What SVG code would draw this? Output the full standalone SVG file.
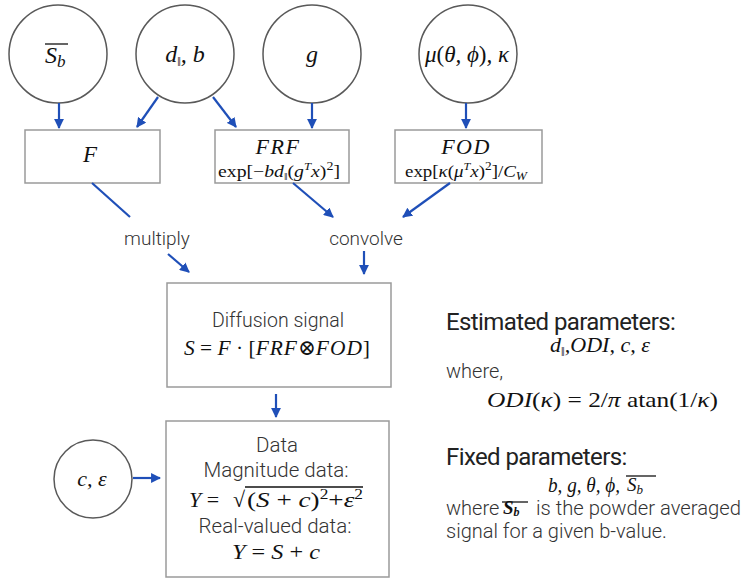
<svg xmlns="http://www.w3.org/2000/svg" width="743" height="579" viewBox="0 0 743 579">
<defs>
<marker id="ah" viewBox="0 0 10 10" refX="9" refY="5" markerWidth="4.5" markerHeight="4.5" orient="auto" markerUnits="strokeWidth">
<path d="M0,0 L10,5 L0,10 z" fill="#1f4fb8"/>
</marker>
<style>
.c{fill:#fff;stroke:#595959;stroke-width:1.5}
.b{fill:#fff;stroke:#9a9a9a;stroke-width:1.5}
.a{stroke:#1f4fb8;stroke-width:2.2;fill:none}
.ol{stroke:#111;stroke-width:1.3}
.m{font-family:"Liberation Serif","DejaVu Serif",serif;font-style:italic;fill:#111}
.r{font-family:"Liberation Serif","DejaVu Serif",serif;font-style:normal;fill:#111}
.s{font-family:Roboto,"Liberation Sans",sans-serif;font-weight:300;fill:#333}
.h{font-family:Roboto,"Liberation Sans",sans-serif;font-weight:400;fill:#222}
</style>
</defs>
<rect width="743" height="579" fill="#fff"/>

<g id="node-sb">
<circle class="c" cx="58" cy="54" r="49"/>
<text class="m" x="45" y="63" font-size="24">S<tspan font-size="17" dy="4">b</tspan></text>
<line class="ol" x1="45" y1="44" x2="68" y2="44"/>
</g>
<g id="node-db">
<circle class="c" cx="185" cy="54" r="49"/>
<text class="m" x="185" y="62" font-size="24" text-anchor="middle">d<tspan class="r" font-size="13" dy="4">‖</tspan><tspan dy="-4">, b</tspan></text>
</g>
<g id="node-g">
<circle class="c" cx="312" cy="54" r="49"/>
<text class="m" x="312" y="62" font-size="24" text-anchor="middle">g</text>
</g>
<g id="node-mu">
<circle class="c" cx="468" cy="54" r="49"/>
<text class="m" x="467" y="62" font-size="23" text-anchor="middle">μ<tspan class="r">(</tspan>θ, ϕ<tspan class="r">)</tspan>, κ</text>
</g>

<g id="node-F">
<rect class="b" x="25" y="130" width="135" height="53"/>
<text class="m" x="90" y="162" font-size="23" text-anchor="middle">F</text>
</g>
<g id="node-FRF">
<rect class="b" x="215" y="130" width="134" height="53"/>
<text class="m" x="278" y="154" font-size="22" text-anchor="middle" letter-spacing="1.5">FRF</text>
<text class="r" x="218" y="177" font-size="17" textLength="122" lengthAdjust="spacingAndGlyphs">exp[−<tspan class="m">bd</tspan><tspan font-size="11" dy="3">‖</tspan><tspan dy="-3">(</tspan><tspan class="m">g</tspan><tspan class="m" font-size="11" dy="-7">T</tspan><tspan class="m" dy="7">x</tspan>)<tspan font-size="12" dy="-7">2</tspan><tspan dy="7">]</tspan></text>
</g>
<g id="node-FOD">
<rect class="b" x="395" y="130" width="147" height="53"/>
<text class="m" x="466" y="154" font-size="22" text-anchor="middle" letter-spacing="1.5">FOD</text>
<text class="r" x="405" y="177" font-size="17" textLength="122" lengthAdjust="spacingAndGlyphs">exp[<tspan class="m">κ</tspan>(<tspan class="m">μ</tspan><tspan class="m" font-size="11" dy="-7">T</tspan><tspan class="m" dy="7">x</tspan>)<tspan font-size="12" dy="-7">2</tspan><tspan dy="7">]/</tspan><tspan class="m">C</tspan><tspan class="m" font-size="12" dy="3">W</tspan></text>
</g>

<g id="label-multiply">
<text class="s" x="157" y="245" font-size="19" text-anchor="middle">multiply</text>
</g>
<g id="label-convolve">
<text class="s" x="366" y="245" font-size="19" text-anchor="middle">convolve</text>
</g>

<g id="node-signal">
<rect class="b" x="167" y="283" width="224" height="104"/>
<text class="s" x="278" y="327" font-size="19.5" text-anchor="middle">Diffusion signal</text>
<text class="r" x="184" y="355" font-size="22" textLength="186" lengthAdjust="spacingAndGlyphs"><tspan class="m">S</tspan> = <tspan class="m">F</tspan> · [<tspan class="m" letter-spacing="1">FRF</tspan>⊗<tspan class="m" letter-spacing="1">FOD</tspan>]</text>
</g>

<g id="node-ce">
<circle class="c" cx="93" cy="479" r="39"/>
<text class="m" x="92" y="486" font-size="22" text-anchor="middle">c, ε</text>
</g>

<g id="node-data">
<rect class="b" x="166" y="421" width="223" height="156"/>
<text class="s" x="277" y="452" font-size="20.5" text-anchor="middle">Data</text>
<text class="s" x="276" y="477" font-size="20.5" text-anchor="middle">Magnitude data:</text>
<text class="r" x="189" y="507" font-size="22"><tspan class="m">Y</tspan> = </text>
<text class="r" x="233" y="507" font-size="22">√</text>
<line class="ol" x1="245" y1="487" x2="363" y2="487"/>
<text class="r" x="247" y="507" font-size="22" textLength="116" lengthAdjust="spacingAndGlyphs">(<tspan class="m">S</tspan> + <tspan class="m">c</tspan>)<tspan font-size="14" dy="-8">2</tspan><tspan dy="8">+</tspan><tspan class="m">ε</tspan><tspan font-size="14" dy="-8">2</tspan></text>
<text class="s" x="275" y="533" font-size="20.5" text-anchor="middle">Real-valued data:</text>
<text class="r" x="232" y="559" font-size="22" textLength="88" lengthAdjust="spacingAndGlyphs"><tspan class="m">Y</tspan> = <tspan class="m">S</tspan> + <tspan class="m">c</tspan></text>
</g>

<g id="text-estimated">
<text class="h" x="446" y="330" font-size="24" letter-spacing="-0.6">Estimated parameters:</text>
<text class="m" x="550" y="352" font-size="20" textLength="100" lengthAdjust="spacingAndGlyphs">d<tspan class="r" font-size="12" dy="4">‖</tspan><tspan dy="-4">,ODI, c, ε</tspan></text>
<text class="s" x="446" y="378" font-size="20">where,</text>
<text class="r" x="487" y="407" font-size="21" textLength="231" lengthAdjust="spacingAndGlyphs"><tspan class="m">ODI</tspan>(<tspan class="m">κ</tspan>) = 2/<tspan class="m">π</tspan> atan(1/<tspan class="m">κ</tspan>)</text>
</g>

<g id="text-fixed">
<text class="h" x="446" y="465" font-size="24" letter-spacing="-0.6">Fixed parameters:</text>
<text class="m" x="548" y="492" font-size="20" textLength="72" lengthAdjust="spacingAndGlyphs">b, g, θ, ϕ,</text>
<text class="m" x="627" y="491" font-size="19">S<tspan font-size="13" dy="3">b</tspan></text>
<line class="ol" x1="626" y1="476" x2="656" y2="476"/>
<text class="s" x="446" y="515" font-size="20">where</text>
<text class="m" x="503" y="514" font-size="19" font-weight="bold">S<tspan font-size="12" dy="2">b</tspan></text>
<line class="ol" x1="502" y1="502" x2="528" y2="502"/>
<text class="s" x="536" y="515" font-size="20" textLength="205" lengthAdjust="spacingAndGlyphs">is the powder averaged</text>
<text class="s" x="446" y="538" font-size="20">signal for a given b-value.</text>
</g>

<g id="connectors">
<line class="a" x1="59" y1="103" x2="59" y2="128" marker-end="url(#ah)"/>
<line class="a" x1="158" y1="97" x2="137" y2="127" marker-end="url(#ah)"/>
<line class="a" x1="213" y1="97" x2="236" y2="127" marker-end="url(#ah)"/>
<line class="a" x1="312" y1="103" x2="312" y2="128" marker-end="url(#ah)"/>
<line class="a" x1="466" y1="103" x2="466" y2="128" marker-end="url(#ah)"/>
<line class="a" x1="92" y1="183" x2="130" y2="217"/>
<line class="a" x1="293" y1="183" x2="333" y2="217" marker-end="url(#ah)"/>
<line class="a" x1="450" y1="183" x2="403" y2="217" marker-end="url(#ah)"/>
<line class="a" x1="168" y1="254" x2="189" y2="272" marker-end="url(#ah)"/>
<line class="a" x1="364" y1="251" x2="364" y2="274" marker-end="url(#ah)"/>
<line class="a" x1="276" y1="394" x2="276" y2="417" marker-end="url(#ah)"/>
<line class="a" x1="133" y1="478" x2="160" y2="478" marker-end="url(#ah)"/>
</g>
</svg>
